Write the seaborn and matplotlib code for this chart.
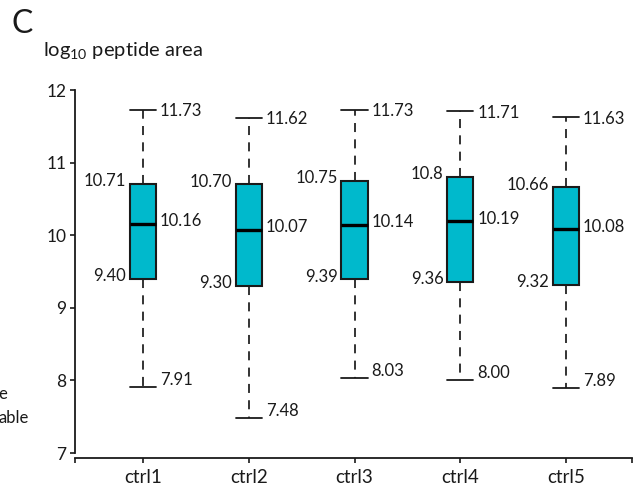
import matplotlib
matplotlib.use("Agg")
import matplotlib.pyplot as plt
import seaborn as sns
import pandas as pd
import numpy as np

# ---- data ----
categories = ["ctrl1", "ctrl2", "ctrl3", "ctrl4", "ctrl5"]
whisker_low = [7.91, 7.48, 8.03, 8.00, 7.89]
q1 = [9.40, 9.30, 9.39, 9.36, 9.32]
median = [10.16, 10.07, 10.14, 10.19, 10.08]
q3 = [10.71, 10.70, 10.75, 10.80, 10.66]
whisker_high = [11.73, 11.62, 11.73, 11.71, 11.63]

low_labels = ["7.91", "7.48", "8.03", "8.00", "7.89"]
q1_labels = ["9.40", "9.30", "9.39", "9.36", "9.32"]
median_labels = ["10.16", "10.07", "10.14", "10.19", "10.08"]
q3_labels = ["10.71", "10.70", "10.75", "10.8", "10.66"]
high_labels = ["11.73", "11.62", "11.73", "11.71", "11.63"]
y_ticks = [7, 8, 9, 10, 11, 12]

# five points per group -> quartiles equal the given values exactly
rows = []
for c, a, b, m, d, e in zip(categories, whisker_low, q1, median, q3, whisker_high):
    for v in (a, b, m, d, e):
        rows.append({"group": c, "value": v})
df = pd.DataFrame(rows)

sns.set_style("ticks")
plt.rcParams["font.family"] = ["Lato", "DejaVu Sans"]
plt.rcParams["mathtext.fontset"] = "custom"
plt.rcParams["mathtext.rm"] = "Lato"
plt.rcParams["text.color"] = "#1a1a1a"

W, H = 637, 490
fig = plt.figure(figsize=(W / 100, H / 100), dpi=100)
ax = fig.add_axes([75 / W, 1 - 453 / H, (632 - 75) / W, (453 - 90) / H])

box_w = 0.25
fill = "#00B9CC"
edge = "#1a1a1a"
sns.boxplot(
    data=df, x="group", y="value", order=categories, ax=ax,
    width=box_w, whis=(0, 100), showfliers=False, color=fill,
    linecolor=edge, linewidth=1.3,
    boxprops={"facecolor": fill, "edgecolor": edge, "linewidth": 1.5},
    medianprops={"color": "black", "linewidth": 2.4},
    whiskerprops={"color": edge, "linewidth": 1.25, "linestyle": (0, (5.2, 4.2))},
    capprops={"color": edge, "linewidth": 1.3},
    capwidths=box_w,
)

ax.set_ylim(7, 12)
ax.set_xlim(-0.643, 4.624)
ax.set_yticks(y_ticks)
ax.set_xlabel("")
ax.set_ylabel("")
for s in ("top", "right"):
    ax.spines[s].set_visible(False)
for s in ("left", "bottom"):
    ax.spines[s].set_linewidth(1.3)
    ax.spines[s].set_color(edge)
ax.spines["bottom"].set_position(("outward", 3.6))
ax.set_xticks([-0.643, 4.624], minor=True)
ax.tick_params(axis="both", which="both", length=3.8, width=1.2, color=edge,
               labelcolor="#1a1a1a", pad=2.5)
ax.tick_params(axis="y", labelsize=12.5)
ax.tick_params(axis="x", which="major", pad=4, labelsize=13.5)

fs = 12
for i in range(len(categories)):
    xr = i + box_w / 2
    xl = i - box_w / 2
    ax.annotate(high_labels[i], xy=(xr, whisker_high[i]), xytext=(2.7, -1.2),
                textcoords="offset points", ha="left", va="center", fontsize=fs)
    ax.annotate(median_labels[i], xy=(xr, median[i]), xytext=(2.7, 2.0),
                textcoords="offset points", ha="left", va="center", fontsize=fs)
    ax.annotate(low_labels[i], xy=(xr, whisker_low[i]), xytext=(2.7, 5.0),
                textcoords="offset points", ha="left", va="center", fontsize=fs)
    ax.annotate(q3_labels[i], xy=(xl, q3[i]), xytext=(-2.5, 2.0),
                textcoords="offset points", ha="right", va="center", fontsize=fs)
    ax.annotate(q1_labels[i], xy=(xl, q1[i]), xytext=(-2.5, 2.0),
                textcoords="offset points", ha="right", va="center", fontsize=fs)

fig.text(12 / W, 1 - 33 / H, "C", fontsize=23, ha="left", va="baseline")
fig.text(43 / W, 1 - 57 / H, r"log$_{\mathregular{10}}$ peptide area",
         fontsize=14.5, ha="left", va="baseline")
fig.text(7.5 / W, 1 - 394 / H, "e", fontsize=12, ha="right", va="center")
fig.text(28.5 / W, 1 - 418 / H, "able", fontsize=12, ha="right", va="center")

fig.savefig("out.png", dpi=100)
